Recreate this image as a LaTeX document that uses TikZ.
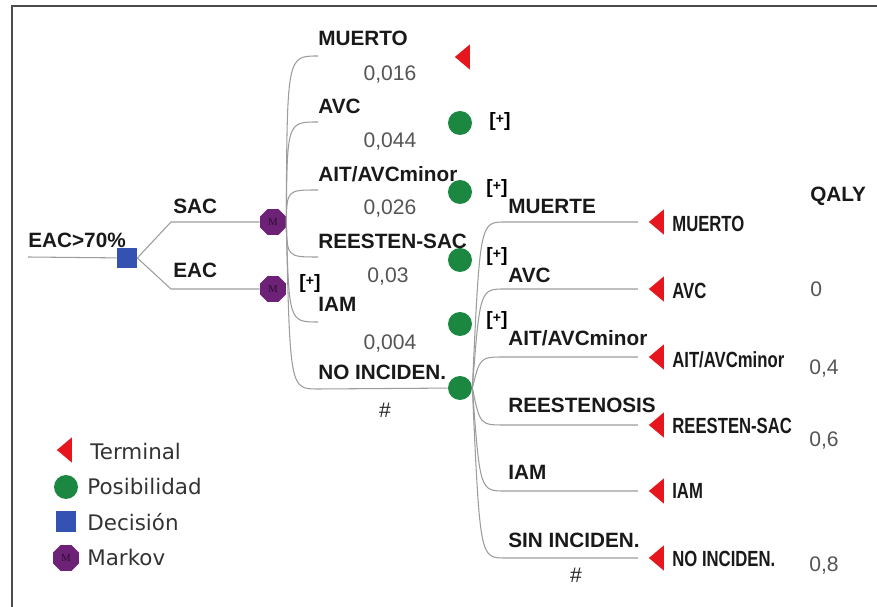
\documentclass[tikz,border=0pt]{standalone}
\usepackage{fontspec}
\setmainfont{Liberation Sans}
\newfontfamily\legendfont{DejaVu Sans}
\newfontfamily\mfont{Liberation Serif}
\usetikzlibrary{shapes.geometric}

\definecolor{termred}{HTML}{E5161E}
\definecolor{posgreen}{HTML}{1C8741}
\definecolor{decblue}{HTML}{3452B2}
\definecolor{markovpurple}{HTML}{6D2177}
\definecolor{linegray}{HTML}{9C9C9C}
\definecolor{probgray}{HTML}{555555}

\newcommand{\plusmark}{[\raisebox{.35ex}{\fontsize{8}{8}\selectfont +}]}
\newcommand{\narrow}[1]{\scalebox{.76}[1]{#1}}

\begin{document}
\begin{tikzpicture}[x=0.02cm, y=-0.02cm,
    branch/.style={draw=linegray, line width=.6pt},
    lbl/.style={anchor=west, inner sep=0, font=\fontsize{11.8}{13}\selectfont\bfseries, text=black!90},
    prob/.style={inner sep=0, font=\fontsize{12}{13}\selectfont, text=probgray},
    endlbl/.style={anchor=west, inner sep=0, font=\fontsize{12.5}{13}\selectfont\bfseries, text=black!90},
    plus/.style={inner sep=0, font=\fontsize{11}{12}\selectfont\bfseries},
    legtxt/.style={anchor=west, inner sep=0, font=\legendfont\fontsize{12.2}{13}\selectfont, text=black!80},
    decision/.style={fill=decblue, minimum size=.4cm, inner sep=0},
    chance/.style={circle, fill=posgreen, minimum size=.48cm, inner sep=0},
    markov/.style={regular polygon, regular polygon sides=8, fill=markovpurple, minimum size=.56cm, inner sep=0,
        text=black!60!markovpurple, font=\mfont\fontsize{6}{6}\selectfont},
    terminal/.style={isosceles triangle, isosceles triangle apex angle=80, shape border rotate=180,
        fill=termred, inner sep=0, minimum height=.3cm},
  ]
  \useasboundingbox (0,0) rectangle (877,607);
  \draw[black!70, line width=1.1pt] (12,607) -- (12,6) -- (877,6);

  % decision
  \coordinate (in) at (28,257);
  \node[decision] (dec) at (127,258) {};
  \node[lbl] (root) at (28,240) {EAC>70\%};
  \draw[branch] (in) -- (dec);
  \node[markov] (sacm) at (273,222) {M};
  \node[markov] (eacm) at (273,289) {M};
  \draw[branch] (dec.east) -- (171,222) -- (sacm);
  \draw[branch] (dec.east) -- (171,289) -- (eacm);
  \node[lbl] (sac) at (173,206) {SAC};
  \node[lbl] (eac) at (173,270) {EAC};
  \node[plus] (eacplus) at (310,284) {\plusmark};

  % markov states
  \node[terminal] (muerto) at (464,57) {};
  \node[chance] (avc) at (460,123) {};
  \node[chance] (ait) at (460,192) {};
  \node[chance] (reesten) at (460,260) {};
  \node[chance] (iam) at (460,324) {};
  \node[chance] (noinc) at (460,388) {};
  \node[plus] at (500,122) {\plusmark};
  \node[plus] at (497,189) {\plusmark};
  \node[plus] at (497,257) {\plusmark};
  \node[plus] at (497,321) {\plusmark};

  \coordinate (b1) at (318,56);
  \coordinate (b2) at (318,122);
  \coordinate (b3) at (318,190);
  \coordinate (b4) at (318,257);
  \coordinate (b5) at (318,322);
  \draw[branch] (sacm.east) .. controls (287,56) .. (b1);
  \draw[branch] (sacm.east) .. controls (287,122) .. (b2);
  \draw[branch] (sacm.east) .. controls (287,190) .. (b3);
  \draw[branch] (sacm.east) .. controls (287,257) .. (b4);
  \draw[branch] (sacm.east) .. controls (289,322) .. (b5);
  \draw[branch] (sacm.east) .. controls (290,389) .. (318,389) -- (noinc);

  \node[lbl] at (318,38) {MUERTO};
  \node[lbl] at (318,106) {AVC};
  \node[lbl] at (318,174) {AIT/AVCminor};
  \node[lbl] at (318,241) {REESTEN-SAC};
  \node[lbl] at (318,304) {IAM};
  \node[lbl] at (318,372) {NO INCIDEN.};
  \node[prob] at (390,74) {0,016};
  \node[prob] at (390,141) {0,044};
  \node[prob] at (390,208) {0,026};
  \node[prob] at (388,276) {0,03};
  \node[prob] at (390,343) {0,004};
  \node[prob, text=black!85] at (385,410) {\#};

  % incidences
  \node[terminal] (tmuerto) at (658,222) {};
  \node[terminal] (tavc) at (658,289) {};
  \node[terminal] (tait) at (658,357) {};
  \node[terminal] (treest) at (658,425) {};
  \node[terminal] (tiam) at (658,491) {};
  \node[terminal] (tnoinc) at (658,558) {};
  \draw[branch, shorten >=6pt] (noinc.east) .. controls (480,222) .. (505,222) -- (tmuerto.apex);
  \draw[branch, shorten >=6pt] (noinc.east) .. controls (480,289) .. (505,289) -- (tavc.apex);
  \draw[branch, shorten >=6pt] (noinc.east) .. controls (480,357) .. (505,357) -- (tait.apex);
  \draw[branch, shorten >=6pt] (noinc.east) .. controls (480,425) .. (505,425) -- (treest.apex);
  \draw[branch, shorten >=6pt] (noinc.east) .. controls (480,491) .. (505,491) -- (tiam.apex);
  \draw[branch, shorten >=6pt] (noinc.east) .. controls (480,558) .. (505,558) -- (tnoinc.apex);

  \node[lbl] at (508,206) {MUERTE};
  \node[lbl] at (508,275) {AVC};
  \node[lbl] at (508,338) {AIT/AVCminor};
  \node[lbl] at (508,405) {REESTENOSIS};
  \node[lbl] at (508,472) {IAM};
  \node[lbl] at (508,540) {SIN INCIDEN.};
  \node[prob, text=black!85] at (576,575) {\#};

  \node[endlbl] at (672,224) {\narrow{MUERTO}};
  \node[endlbl] at (672,291) {\narrow{AVC}};
  \node[endlbl] at (672,360) {\narrow{AIT/AVCminor}};
  \node[endlbl] at (672,426) {\narrow{REESTEN-SAC}};
  \node[endlbl] at (672,491) {\narrow{IAM}};
  \node[endlbl] at (672,559) {\narrow{NO INCIDEN.}};

  % qaly
  \node[lbl] at (810,196) {QALY};
  \node[prob, anchor=west] at (810,289) {0};
  \node[prob, anchor=west] at (809,368) {0,4};
  \node[prob, anchor=west] at (809,440) {0,6};
  \node[prob, anchor=west] at (809,565) {0,8};

  % legend
  \node[terminal] (legt) at (66,450) {};
  \node[legtxt] at (90,452) {Terminal};
  \node[chance] (legc) at (66,487) {};
  \node[legtxt] at (87,487) {Posibilidad};
  \node[decision, minimum size=.42cm] (legd) at (66,522) {};
  \node[legtxt] at (87,522) {Decisión};
  \node[markov] (legm) at (66,558) {M};
  \node[legtxt] at (87,558) {Markov};
\end{tikzpicture}
\end{document}
